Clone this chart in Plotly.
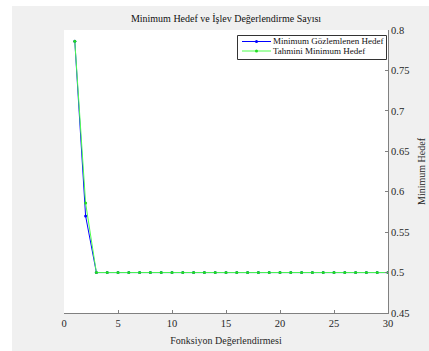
import plotly.graph_objects as go

evals = list(range(1, 31))
observed_min = [0.786, 0.570] + [0.5] * 28
estimated_min = [0.786, 0.586] + [0.5] * 28
x_ticks = [0, 5, 10, 15, 20, 25, 30]
y_ticks = [0.45, 0.5, 0.55, 0.6, 0.65, 0.7, 0.75, 0.8]
series_names = ["Minimum Gözlemlenen Hedef", "Tahmini Minimum Hedef"]
series_colors = ["#0000ff", "#4dff4d"]
marker_colors = ["#0000ff", "#22dd22"]

W, H = 429, 351
L, R, T, B = 64, 41, 30, 38
pw, ph = W - L - R, H - T - B
FONT = "Liberation Serif"
GRAY = "#262626"


def px_x(p):
    return (p - L) / pw


def px_y(p):
    return 1 - (p - T) / ph


fig = go.Figure()
for yv, nm, col, mc in zip([observed_min, estimated_min], series_names,
                           series_colors, marker_colors):
    fig.add_trace(go.Scatter(x=evals, y=yv, mode="lines+markers", name=nm,
                             line=dict(color=col, width=1),
                             marker=dict(color=mc, size=3)))

# white strips at left and top of the page
fig.add_shape(type="rect", xref="paper", yref="paper", layer="above",
              x0=px_x(0), x1=px_x(12), y0=px_y(H), y1=px_y(0),
              fillcolor="white", line=dict(width=0))
fig.add_shape(type="rect", xref="paper", yref="paper", layer="above",
              x0=px_x(0), x1=px_x(W), y0=px_y(6), y1=px_y(0),
              fillcolor="white", line=dict(width=0))

# legend box (drawn manually to match compact layout)
fig.add_shape(type="rect", xref="paper", yref="paper", layer="above",
              x0=px_x(237.5), x1=px_x(386.5), y0=px_y(59.5), y1=px_y(35.5),
              fillcolor="white", line=dict(color="#333333", width=1))
for i, (nm, col, mc) in enumerate(zip(series_names, series_colors, marker_colors)):
    yy = px_y(41.5 + i * 9.5)
    fig.add_shape(type="line", xref="paper", yref="paper", layer="above",
                  x0=px_x(242), x1=px_x(271), y0=yy, y1=yy,
                  line=dict(color=col, width=1))
    fig.add_shape(type="circle", xref="paper", yref="paper", layer="above",
                  x0=px_x(255), x1=px_x(258), y0=yy - 1.5 / ph, y1=yy + 1.5 / ph,
                  fillcolor=mc, line=dict(width=0))
    fig.add_annotation(x=px_x(272), y=yy, xref="paper", yref="paper",
                       text=nm, showarrow=False, xanchor="left", yanchor="middle",
                       borderpad=0,
                       font=dict(size=9, family=FONT, color="#111111"))

fig.update_layout(
    width=W, height=H,
    margin=dict(l=L, r=R, t=T, b=B),
    paper_bgcolor="#f0f0f0", plot_bgcolor="white",
    font=dict(family=FONT, size=10, color=GRAY),
    title=dict(text="Minimum Hedef ve İşlev Değerlendirme Sayısı",
               x=0.5, xref="paper", xanchor="center",
               y=1 - 18 / H, yref="container", yanchor="middle",
               font=dict(size=10, family=FONT, color="#111111")),
    showlegend=False,
    xaxis=dict(range=[0, 30], tickvals=x_ticks, ticks="inside", ticklen=3,
               tickcolor="#808080", showline=True, linecolor="#808080",
               linewidth=1, showgrid=False, zeroline=False, automargin=False,
               tickfont=dict(size=10.5, family=FONT, color=GRAY),
               title=dict(text="Fonksiyon Değerlendirmesi", standoff=9,
                          font=dict(size=10, family=FONT, color=GRAY))),
    yaxis=dict(range=[0.45, 0.8], tickvals=y_ticks, side="right",
               ticks="inside", ticklen=3, tickcolor="#808080",
               showline=True, linecolor="#808080", linewidth=1,
               showgrid=False, zeroline=False, automargin=False,
               tickfont=dict(size=10.5, family=FONT, color=GRAY),
               title=dict(text="Minimum Hedef", standoff=9,
                          font=dict(size=10, family=FONT, color=GRAY))),
)

fig.write_html("out.html")
